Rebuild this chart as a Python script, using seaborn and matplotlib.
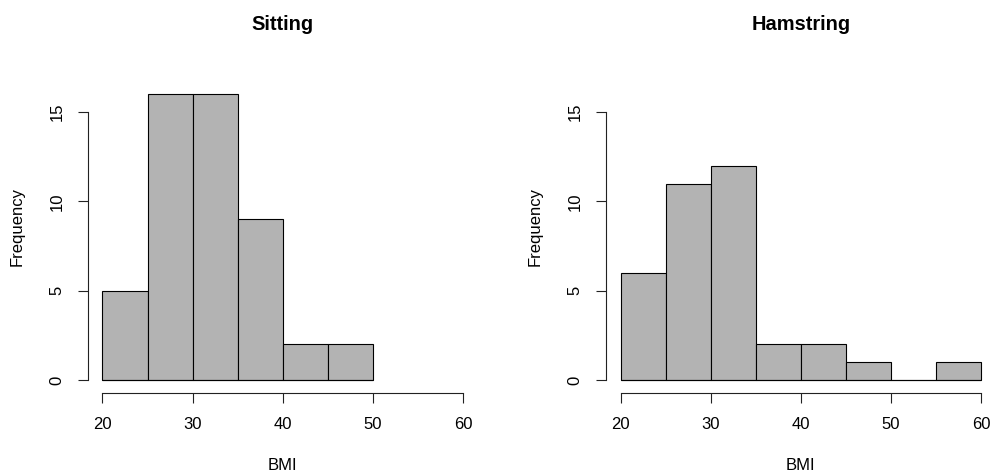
import matplotlib
matplotlib.use("Agg")
import matplotlib.pyplot as plt
import seaborn as sns

# Histogram bins and counts of BMI per group
bin_edges = [20, 25, 30, 35, 40, 45, 50, 55, 60]
sitting_counts = [5, 16, 16, 9, 2, 2]
hamstring_counts = [6, 11, 12, 2, 2, 1, 0, 1]
titles = ["Sitting", "Hamstring"]
x_ticks = [20, 30, 40, 50, 60]
y_ticks = [0, 5, 10, 15]
x_label = "BMI"
y_label = "Frequency"

sns.set_style("white")
plt.rcParams["font.family"] = ["Liberation Sans", "DejaVu Sans"]
plt.rcParams["text.color"] = "black"
plt.rcParams["axes.labelcolor"] = "black"
plt.rcParams["xtick.color"] = "black"
plt.rcParams["ytick.color"] = "black"

W, H = 994, 475
fig = plt.figure(figsize=(W / 100, H / 100), dpi=100)

bottom_px, top_px, width_px = 393, 61, 389.7
px_per_x, px_per_y = 9.02, 17.86
zero_y_px = 380

panels = [(88, sitting_counts, titles[0]), (606, hamstring_counts, titles[1])]
for left_px, counts, title in panels:
    ax = fig.add_axes([left_px / W, (H - bottom_px) / H,
                       width_px / W, (bottom_px - top_px) / H])
    edges = bin_edges[:len(counts) + 1]
    mids = [(a + b) / 2 for a, b in zip(edges[:-1], edges[1:])]
    sns.histplot(x=mids, weights=counts, bins=edges, ax=ax,
                 color="#B3B3B3", edgecolor="black", linewidth=0.8,
                 alpha=1.0)
    # baseline under the bars (also shows empty bins as a flat edge)
    ax.hlines(0, edges[0], edges[-1], color="black", linewidth=0.8)

    x0 = 20 - 14.5 / px_per_x
    ax.set_xlim(x0, x0 + width_px / px_per_x)
    ax.set_ylim(-(bottom_px - zero_y_px) / px_per_y,
                (zero_y_px - top_px) / px_per_y)

    ax.set_xlabel("")
    ax.set_ylabel("")
    ax.set_xticks(x_ticks)
    ax.set_yticks(y_ticks)
    for side in ("top", "right"):
        ax.spines[side].set_visible(False)
    ax.spines["left"].set_bounds(y_ticks[0], y_ticks[-1])
    ax.spines["bottom"].set_bounds(x_ticks[0], x_ticks[-1])
    for side in ("left", "bottom"):
        ax.spines[side].set_color("#222222")
        ax.spines[side].set_linewidth(0.8)
    ax.tick_params(axis="both", direction="out", length=7, width=0.8,
                   color="#222222", labelsize=12, labelcolor="black",
                   bottom=True, left=True)
    ax.tick_params(axis="x", pad=10)
    ax.tick_params(axis="y", pad=10, labelrotation=90)
    for lab in ax.get_yticklabels():
        lab.set_va("center")

    cx = (left_px + width_px / 2) / W
    fig.text(cx, 1 - 30.5 / H, title, ha="center", va="baseline",
             fontsize=14.4, fontweight="bold")
    fig.text(cx, 1 - 470.5 / H, x_label, ha="center", va="baseline",
             fontsize=12)
    fig.text((left_px - 66) / W, 1 - 227 / H, y_label, rotation=90,
             rotation_mode="anchor", ha="center", va="baseline", fontsize=12)

fig.savefig("out.png", dpi=100)
